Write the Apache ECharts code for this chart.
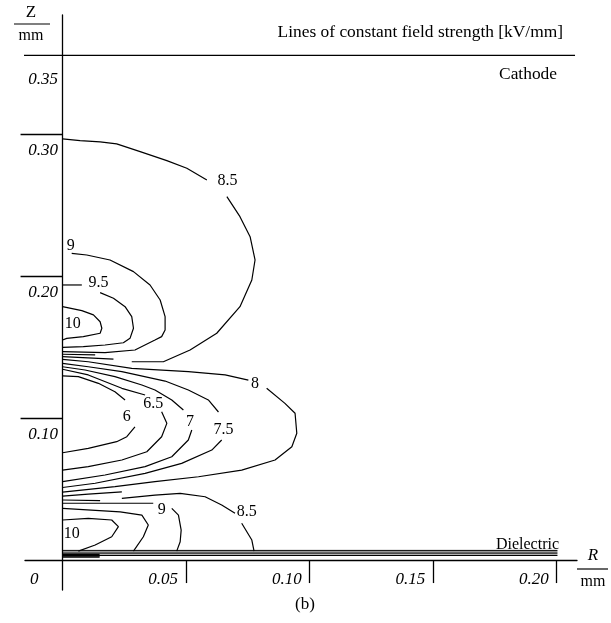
<!DOCTYPE html>
<html>
<head>
<meta charset="utf-8">
<script src="https://cdn.jsdelivr.net/npm/echarts@6/dist/echarts.min.js"></script>
<style>
  html, body { margin: 0; padding: 0; background: #fff; }
  #chart { width: 611px; height: 623px; }
</style>
</head>
<body>
<div id="chart"></div>
<script>
// axis ticks (R and Z in mm)
const rTicks = [0.05, 0.10, 0.15, 0.20];
const rLabels = [0, 0.05, 0.10, 0.15, 0.20];
const zTicks = [0.10, 0.20, 0.30];
const zLabels = [0.10, 0.20, 0.30, 0.35];

// electrode lines
const cathodeZ = 0.3556;
const dielectricZ = [0.0068, 0.0056, 0.0044, 0.0032];
const dielectricEnd = 0.2003;
const dielectricBandZ = [0.0040, 0.0030, 0.0022];
const dielectricBandEnd = 0.015;

// contour segments, [r, z]
const seg85TopA = [[0,0.2967],[0.0071,0.2955],[0.0152,0.2946],[0.0219,0.2932],[0.0314,0.2877],[0.0422,0.2814],[0.0503,0.2760],[0.0584,0.2678]];
const seg85TopB = [[0.0665,0.2560],[0.0718,0.2419],[0.0759,0.2278],[0.0779,0.2114],[0.0766,0.1973],[0.0718,0.1785],[0.0624,0.1598],[0.0516,0.1480],[0.0408,0.1397],[0.0280,0.1397]];
const seg9Top = [[0.0037,0.2161],[0.0098,0.2149],[0.0192,0.2114],[0.0287,0.2032],[0.0354,0.1938],[0.0395,0.1832],[0.0415,0.1715],[0.0415,0.1621],[0.0401,0.1574],[0.0374,0.1550],[0.0293,0.1480],[0.0172,0.1461],[0,0.1468]];
const seg95TopA = [[0,0.1938],[0.0078,0.1938]];
const seg95TopB = [[0.0152,0.1884],[0.0206,0.1844],[0.0253,0.1785],[0.0280,0.1715],[0.0287,0.1633],[0.0273,0.1562],[0.0246,0.1531],[0.0172,0.1515],[0.0084,0.1503],[0,0.1499]];
const seg10Top = [[0,0.1785],[0.0078,0.1757],[0.0125,0.1727],[0.0152,0.1679],[0.0159,0.1633],[0.0152,0.1598],[0.0084,0.1574],[0.0017,0.1562],[0,0.1550]];
const segShortA = [[0,0.1450],[0.0132,0.1445]];
const segShortB = [[0,0.1433],[0.0206,0.1416]];
const seg8A = [[0,0.1414],[0.0104,0.1397],[0.0280,0.1351],[0.0509,0.1327],[0.0658,0.1304],[0.0752,0.1268]];
const seg8B = [[0.0826,0.1210],[0.0900,0.1104],[0.0941,0.1034],[0.0948,0.0893],[0.0928,0.0798],[0.0860,0.0705],[0.0725,0.0634],[0.0550,0.0587],[0.0374,0.0552],[0.0212,0.0517],[0,0.0479]];
const seg75A = [[0,0.1386],[0.0104,0.1362],[0.0240,0.1327],[0.0415,0.1261],[0.0509,0.1198],[0.0590,0.1128],[0.0631,0.1043]];
const seg75B = [[0.0644,0.0846],[0.0604,0.0775],[0.0482,0.0681],[0.0334,0.0611],[0.0132,0.0541],[0,0.0511]];
const seg7A = [[0,0.1362],[0.0091,0.1339],[0.0212,0.1292],[0.0321,0.1233],[0.0374,0.1198],[0.0442,0.1128],[0.0489,0.1057]];
const seg7B = [[0.0523,0.0916],[0.0509,0.0846],[0.0442,0.0728],[0.0334,0.0658],[0.0172,0.0599],[0,0.0552]];
const seg65A = [[0,0.1344],[0.0104,0.1304],[0.0240,0.1210],[0.0334,0.1163]];
const seg65B = [[0.0401,0.1045],[0.0422,0.0963],[0.0401,0.0869],[0.0341,0.0763],[0.0240,0.0705],[0.0104,0.0658],[0,0.0634]];
const seg6A = [[0,0.1297],[0.0064,0.1292],[0.0145,0.1245],[0.0212,0.1186],[0.0253,0.1128]];
const seg6B = [[0.0293,0.0939],[0.0260,0.0869],[0.0219,0.0834],[0.0104,0.0787],[0,0.0756]];
const segShortC = [[0,0.0451],[0.0104,0.0465],[0.0240,0.0481]];
const segShortD = [[0,0.0423],[0.0152,0.0418]];
const seg85LowA = [[0.0240,0.0435],[0.0374,0.0458],[0.0476,0.0470],[0.0577,0.0446],[0.0644,0.0388],[0.0698,0.0329]];
const seg85LowB = [[0.0725,0.0259],[0.0766,0.0141],[0.0775,0.0063]];
const seg9LowA = [[0,0.0400],[0.0367,0.0400]];
const seg9LowB = [[0.0442,0.0364],[0.0469,0.0317],[0.0480,0.0211],[0.0476,0.0129],[0.0462,0.0063]];
const seg95Low = [[0,0.0364],[0.0233,0.0340],[0.0321,0.0317],[0.0347,0.0247],[0.0327,0.0164],[0.0287,0.0063]];
const seg10Low = [[0,0.0282],[0.0104,0.0294],[0.0199,0.0282],[0.0226,0.0235],[0.0199,0.0164],[0.0132,0.0106],[0.0064,0.0063]];

// contour values written on the lines [r, z, text]
const contourLabels = [
  [0.0668, 0.2671, '8.5'], [0.0033, 0.2213, '9'], [0.0145, 0.1950, '9.5'], [0.0041, 0.1663, '10'],
  [0.0779, 0.1245, '8'], [0.0367, 0.1099, '6.5'], [0.0260, 0.1006, '6'], [0.0516, 0.0975, '7'],
  [0.0651, 0.0916, '7.5'], [0.0401, 0.0357, '9'], [0.0745, 0.0340, '8.5'], [0.0037, 0.0188, '10']
];

const contourSegments = [
  seg85TopA, seg85TopB, seg9Top, seg95TopA, seg95TopB, seg10Top, segShortA, segShortB,
  seg8A, seg8B, seg75A, seg75B, seg7A, seg7B, seg65A, seg65B, seg6A, seg6B,
  segShortC, segShortD, seg85LowA, seg85LowB, seg9LowA, seg9LowB, seg95Low, seg10Low
];

const FONT = '"Liberation Serif", "Times New Roman", serif';
const INK = '#000';

function lineSeries(points, width) {
  return {
    type: 'line',
    data: points,
    symbol: 'none',
    showSymbol: false,
    silent: true,
    clip: false,
    lineStyle: { color: INK, width: width || 1.2 }
  };
}

function text(x, y, str, align, size, italic) {
  return {
    type: 'text',
    x: x, y: y,
    silent: true,
    style: {
      text: str,
      font: (italic ? 'italic ' : '') + (size || 16) + 'px ' + FONT,
      fill: INK,
      textAlign: align || 'center', align: align || 'center',
      textVerticalAlign: 'middle', verticalAlign: 'middle'
    }
  };
}

function hline(x1, x2, y) {
  return { type: 'line', silent: true, shape: { x1: x1, y1: y, x2: x2, y2: y }, style: { stroke: INK, lineWidth: 1.2 } };
}

const series = [];
contourSegments.forEach(seg => series.push(lineSeries(seg)));
dielectricZ.forEach(z => series.push(lineSeries([[0, z], [dielectricEnd, z]], 1)));
dielectricBandZ.forEach(z => series.push(lineSeries([[0, z], [dielectricBandEnd, z]], 1.4)));
series.push(lineSeries([[-0.0204, cathodeZ], [0.2074, cathodeZ]], 1.3));

series.push({
  type: 'scatter',
  data: contourLabels,
  symbolSize: 0,
  silent: true,
  itemStyle: { opacity: 1 },
  label: {
    show: true,
    position: 'inside',
    formatter: p => p.value[2],
    color: INK,
    opacity: 1,
    fontFamily: FONT,
    fontSize: 16
  }
});

const axisStyle = { color: INK, width: 1.3 };

const chart = echarts.init(document.getElementById('chart'));
chart.setOption({
  animation: false,
  grid: { left: 25, top: 15, width: 552, height: 575, containLabel: false, outerBoundsMode: 'none' },
  xAxis: {
    type: 'value',
    min: -0.0152,
    max: 0.2082,
    splitLine: { show: false },
    axisLine: { show: true, onZero: true, lineStyle: axisStyle },
    axisTick: { show: true, customValues: rTicks, length: 23, lineStyle: axisStyle },
    axisLabel: {
      customValues: rLabels,
      formatter: v => v === 0 ? '{z|0}' : v.toFixed(2),
      align: 'right',
      padding: [0, 8, 0, 0],
      margin: -19,
      color: INK,
      fontFamily: FONT,
      fontStyle: 'italic',
      fontSize: 17,
      rich: { z: { padding: [0, 16, 0, 0], color: INK, fontFamily: FONT, fontStyle: 'italic', fontSize: 17 } }
    }
  },
  yAxis: {
    type: 'value',
    min: -0.0211,
    max: 0.384,
    splitLine: { show: false },
    axisLine: { show: true, onZero: true, lineStyle: axisStyle },
    axisTick: { show: true, customValues: zTicks, length: 42, lineStyle: axisStyle },
    axisLabel: {
      customValues: zLabels,
      formatter: v => v.toFixed(2),
      verticalAlign: 'top',
      padding: [8, 0, 0, 0],
      margin: -33,
      color: INK,
      fontFamily: FONT,
      fontStyle: 'italic',
      fontSize: 17
    }
  },
  graphic: [
    text(31, 13, 'Z', 'center', 17),
    hline(14, 50, 24),
    text(31, 36, 'mm', 'center', 16),
    text(593, 556, 'R', 'center', 17, true),
    hline(577, 608, 569),
    text(593, 582, 'mm', 'center', 16),
    text(563, 32, 'Lines of constant field strength [kV/mm]', 'right', 17.4),
    text(557, 74, 'Cathode', 'right', 17.4),
    text(559, 545, 'Dielectric', 'right', 16),
    text(305, 605, '(b)', 'center', 17)
  ],
  series: series
});
</script>
</body>
</html>
